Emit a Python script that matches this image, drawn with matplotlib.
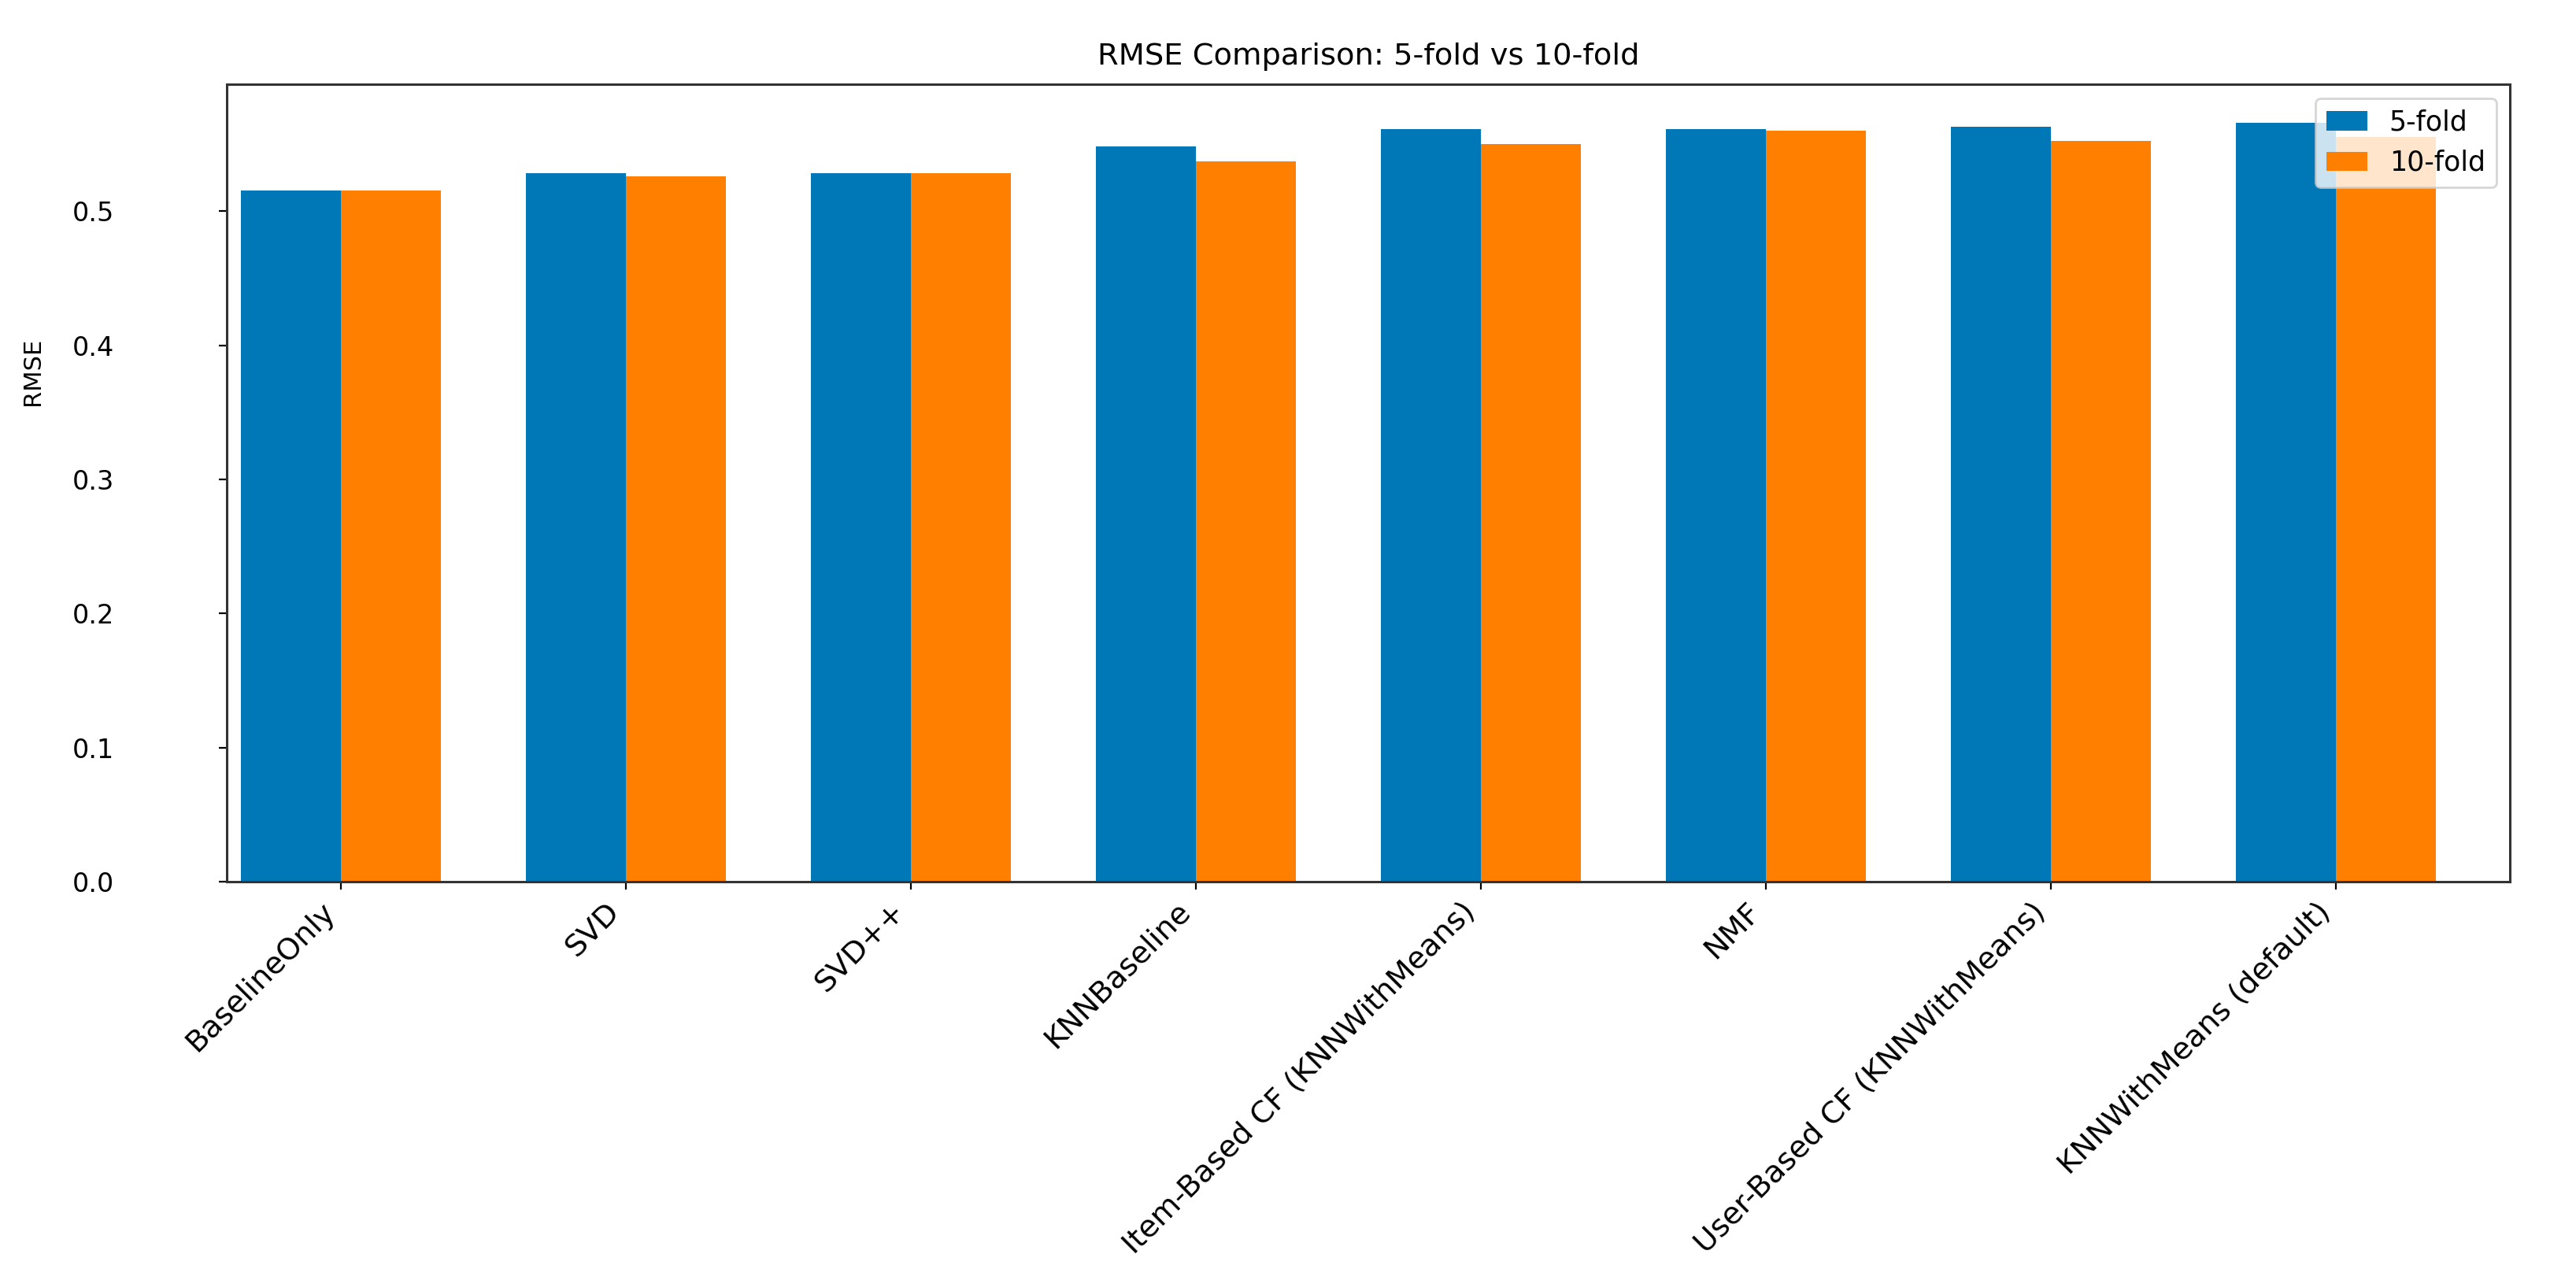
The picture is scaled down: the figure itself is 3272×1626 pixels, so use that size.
import numpy as np
import matplotlib
matplotlib.use("Agg")
import matplotlib.pyplot as plt

models = ["BaselineOnly", "SVD", "SVD++", "KNNBaseline",
          "Item-Based CF (KNNWithMeans)", "NMF",
          "User-Based CF (KNNWithMeans)", "KNNWithMeans (default)"]
rmse5 = [0.515, 0.528, 0.528, 0.548, 0.561, 0.561, 0.563, 0.566]
rmse10 = [0.515, 0.526, 0.528, 0.537, 0.550, 0.560, 0.552, 0.555]

if __name__ == "__main__":
    x = np.arange(len(models))
    width = 0.35

    fig = plt.figure(figsize=(16.365, 8.13), dpi=200)
    ax = fig.add_axes([0.088, 0.311, 0.886, 0.623])
    ax.bar(x - width/2, rmse5, width, label="5-fold", color="#0077b6")
    ax.bar(x + width/2, rmse10, width, label="10-fold", color="#ff8000")

    ax.set_xticks(x)
    ax.set_xticklabels(models, rotation=45, ha="right", fontsize=13.8)
    ax.tick_params(axis="y", labelsize=12, pad=48)
    ax.set_xlim(-0.40, 7.61)
    for s in ax.spines.values():
        s.set_linewidth(1.1)
        s.set_color("#333333")
    ax.set_ylabel("RMSE", fontsize=11)
    ax.yaxis.set_label_coords(-0.08, 0.64)
    ax.set_title("RMSE Comparison: 5-fold vs 10-fold", fontsize=13.8, pad=9)
    ax.legend(loc="upper right", fontsize=12.5, handlelength=1.5)

    plt.savefig("out.png", dpi=200)
    plt.close()
